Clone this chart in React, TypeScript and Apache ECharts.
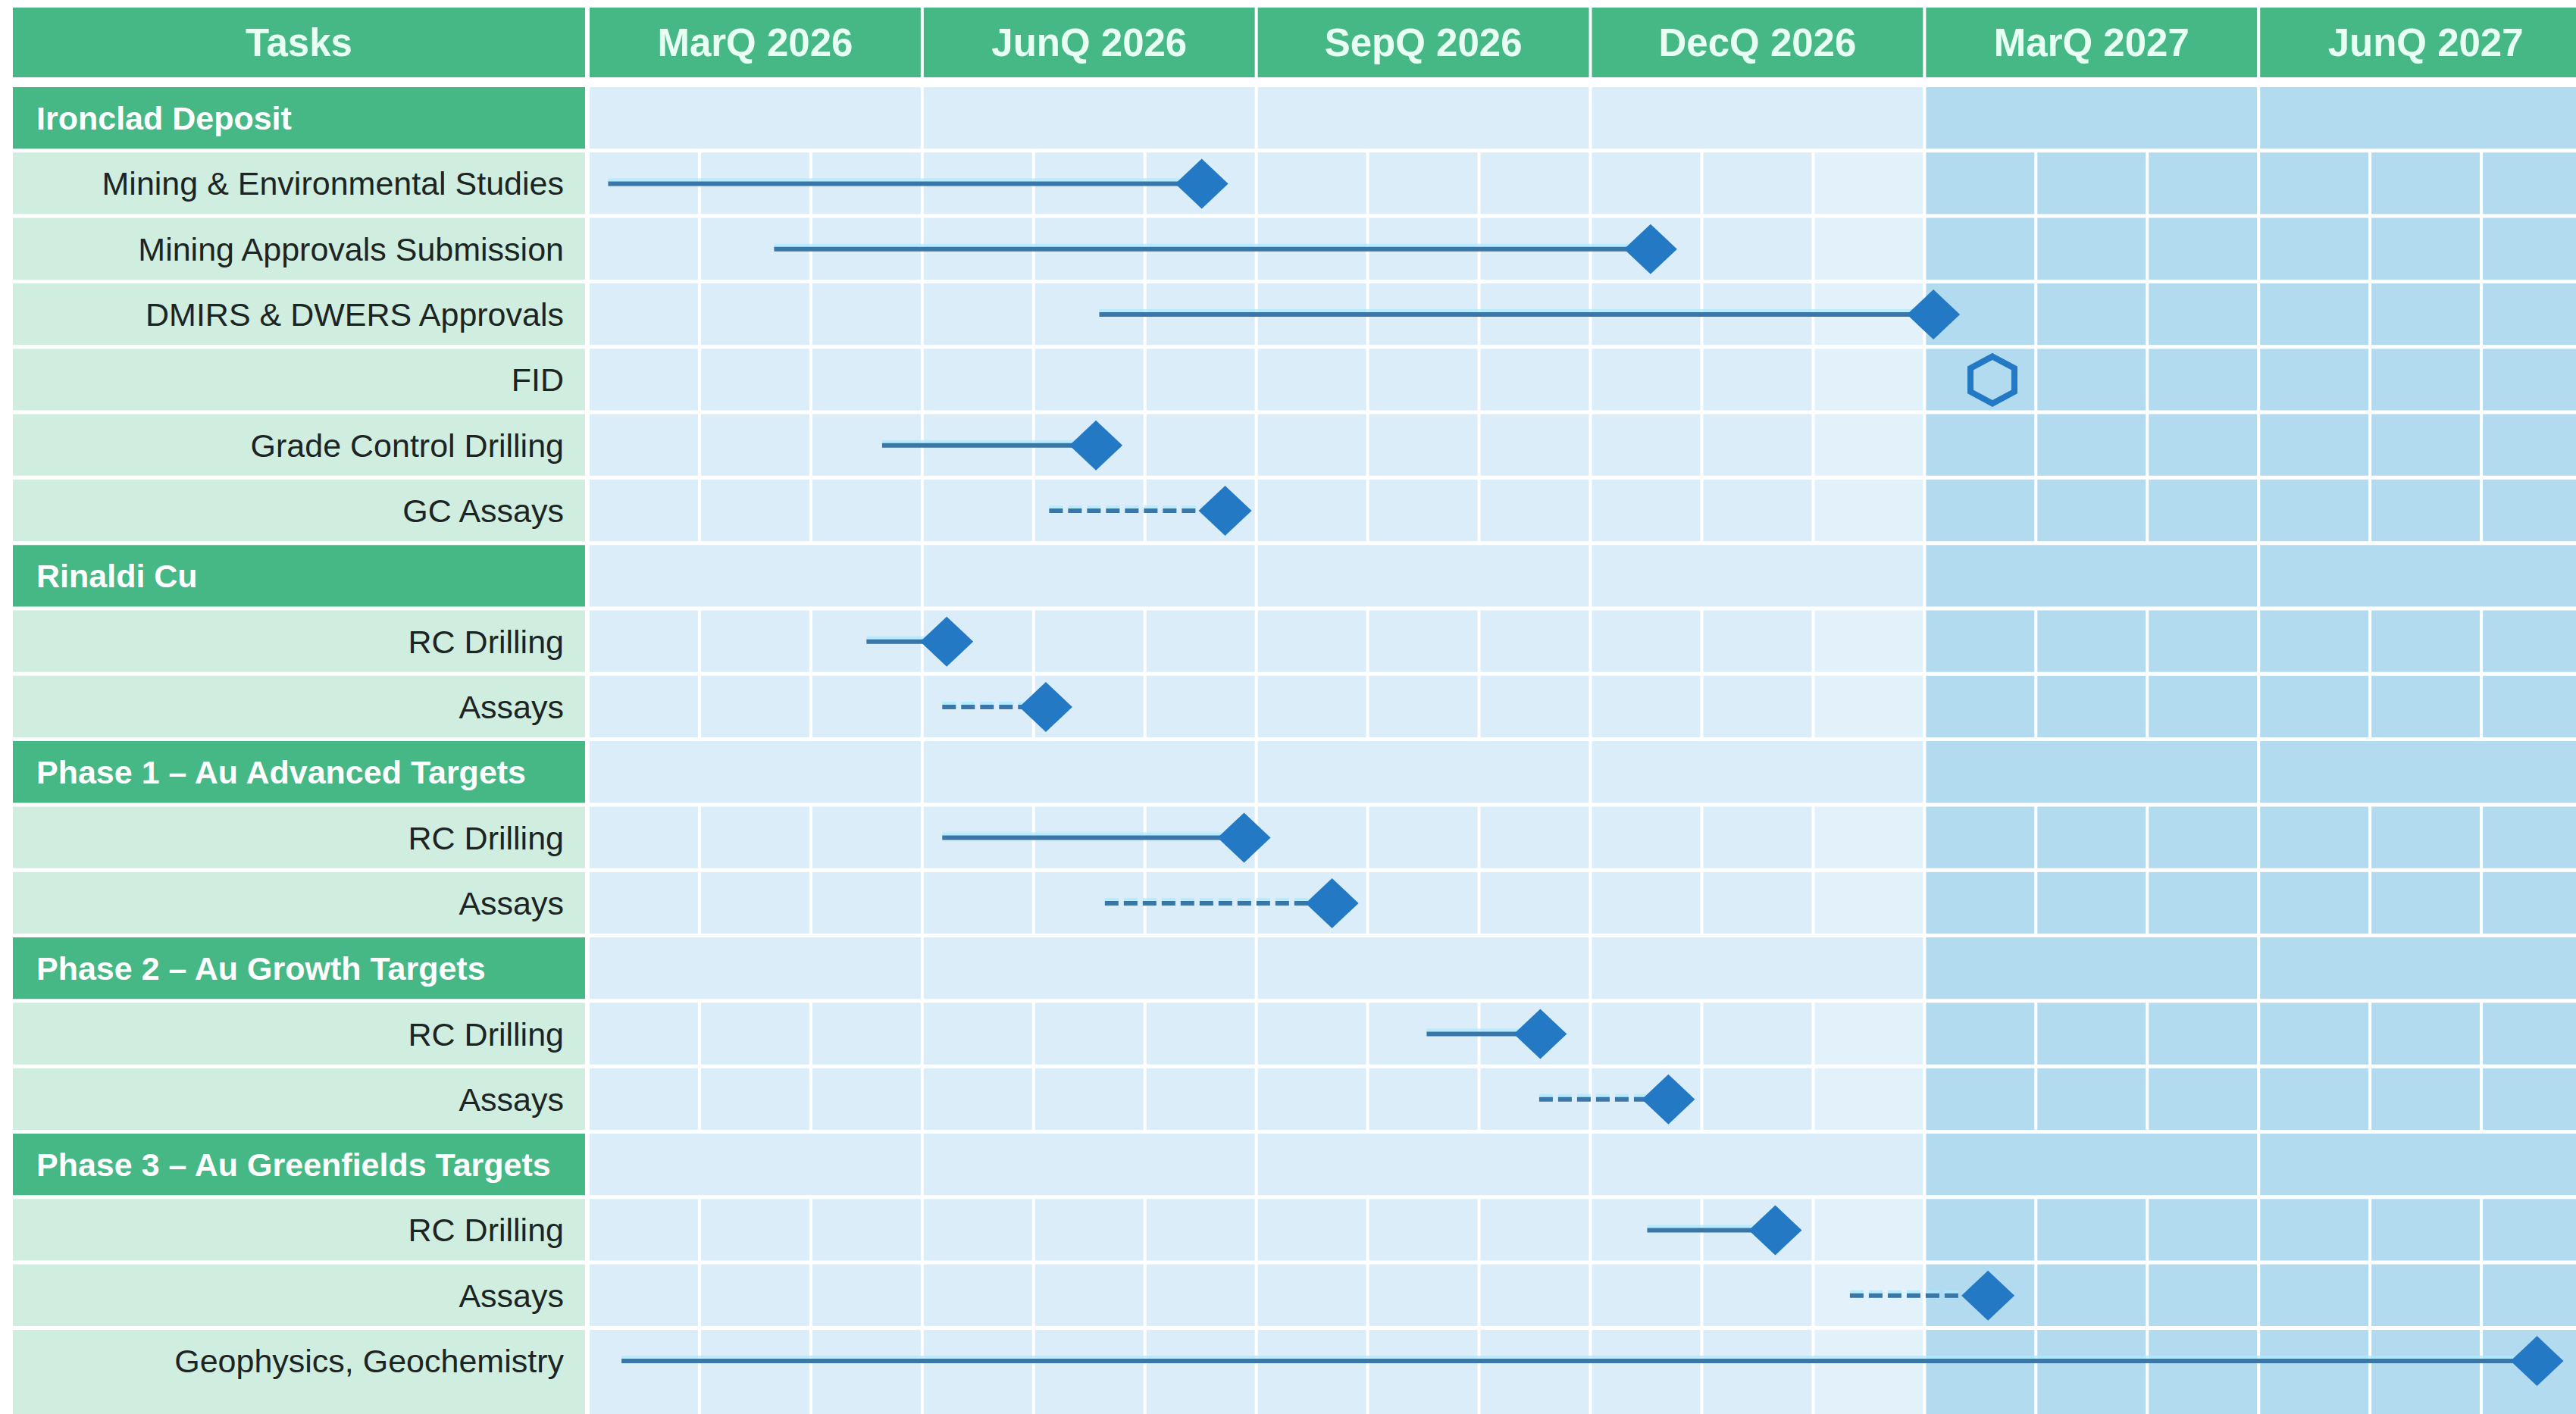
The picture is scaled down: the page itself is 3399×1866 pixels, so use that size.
import React, { useEffect, useRef } from "react";
import * as echarts from "echarts";

// ---------- data ----------
const quarters = ["MarQ 2026", "JunQ 2026", "SepQ 2026", "DecQ 2026", "MarQ 2027", "JunQ 2027"];
const taskHeader = "Tasks";
const rowLabels = [
  "Ironclad Deposit",
  "Mining & Environmental Studies",
  "Mining Approvals Submission",
  "DMIRS & DWERS Approvals",
  "FID",
  "Grade Control Drilling",
  "GC Assays",
  "Rinaldi Cu",
  "RC Drilling",
  "Assays",
  "Phase 1 – Au Advanced Targets",
  "RC Drilling",
  "Assays",
  "Phase 2 – Au Growth Targets",
  "RC Drilling",
  "Assays",
  "Phase 3 – Au Greenfields Targets",
  "RC Drilling",
  "Assays",
  "Geophysics, Geochemistry",
];
const groupRows = [0, 7, 10, 13, 16];
// activities: months counted from 1 Jan 2026
const activityRows = [1, 2, 3, 5, 6, 8, 9, 11, 12, 14, 15, 17, 18, 19];
const activityStart = [0.18, 1.67, 4.59, 2.64, 4.14, 2.5, 3.18, 3.18, 4.64, 7.53, 8.54, 9.51, 11.33, 0.3];
const activityEnd = [5.51, 9.54, 12.08, 4.56, 5.72, 3.22, 4.11, 5.89, 6.68, 8.55, 9.7, 10.66, 12.57, 17.5];
const activityDashed = [false, false, false, false, true, false, true, false, true, false, true, false, true, false];
const milestoneRows = [4];
const milestoneMonth = [12.61];

// ---------- layout / style ----------
const W = 3399;
const H = 1866;
const LEFT = 17;
const LABEL_RIGHT = 772;
const GRID_LEFT = 776;
const GRID_TOP = 113;
const HEADER_TOP = 10;
const HEADER_BOTTOM = 102;
const X_MAX = 17.85;
const Y_MAX = 20.31;
const MONTHS = quarters.length * 3;

const GREEN = "#45b886";
const HEADER_TEXT = "#e8fff4";
const MINT = "#cfeedf";
const BLUE = "#daedf8";
const BLUE_LIGHT = "#e2f1fa";
const BLUE_DARK = "#b3dbef";
const MARK = "#2479c4";
const LINE = "#3a76a7";
const FONT = "'Liberation Sans', Arial, sans-serif";

function monthColor(m: number) {
  if (m >= 12) return BLUE_DARK;
  if (m === 11) return BLUE_LIGHT;
  return BLUE;
}

function textEl(x: number, y: number, text: string, font: string, fill: string, align: string) {
  return {
    type: "text",
    style: {
      x,
      y,
      text,
      font,
      fill,
      align,
      verticalAlign: "middle",
      textAlign: align,
      textVerticalAlign: "middle",
    },
  };
}

export default function App() {
  const ref = useRef<HTMLDivElement>(null);

  useEffect(() => {
    const chart = echarts.init(ref.current!, null, { renderer: "svg" });

    const cellData = rowLabels.map((_, i) => [0, i]);
    const headerData = quarters.map((_, q) => [q * 3, q]);
    const lineData = activityRows.map((r, i) => [activityStart[i], r + 0.5, activityEnd[i], activityDashed[i] ? 1 : 0]);
    const diamondData = activityRows.map((r, i) => [activityEnd[i], r + 0.5]);
    const hexData = milestoneRows.map((r, i) => [milestoneMonth[i], r + 0.5]);

    const option: any = {
      animation: false,
      backgroundColor: "#ffffff",
      grid: { left: GRID_LEFT, top: GRID_TOP, width: W - GRID_LEFT, height: H - GRID_TOP, show: false },
      xAxis: { type: "value", min: 0, max: X_MAX, show: false },
      yAxis: { type: "value", min: 0, max: Y_MAX, inverse: true, show: false },
      series: [
        {
          type: "custom",
          name: "cells",
          clip: false,
          z: 1,
          data: cellData,
          renderItem: (params: any, api: any) => {
            const r = api.value(1);
            const cs = params.coordSys;
            const yTop = api.coord([0, r])[1];
            const isLast = r === rowLabels.length - 1;
            const yBot = isLast ? cs.y + cs.height + 10 : api.coord([0, r + 1])[1];
            const y = yTop + 2;
            const h = yBot - yTop - 5;
            const isGroup = groupRows.indexOf(r) >= 0;
            const yc = api.coord([0, r + 0.5])[1];
            const children: any[] = [];
            children.push({
              type: "rect",
              shape: { x: LEFT, y, width: LABEL_RIGHT - LEFT, height: h },
              style: { fill: isGroup ? GREEN : MINT },
            });
            if (isGroup) {
              children.push(textEl(48, yc, rowLabels[r], `bold 43px ${FONT}`, "#ffffff", "left"));
              for (let q = 0; q < quarters.length; q++) {
                const x0 = api.coord([q * 3, r])[0];
                const x1 = api.coord([q * 3 + 3, r])[0];
                children.push({
                  type: "rect",
                  shape: { x: x0 + 2, y, width: x1 - x0 - 4, height: h },
                  style: { fill: q >= 4 ? BLUE_DARK : BLUE },
                });
              }
            } else {
              children.push(textEl(744, yc, rowLabels[r], `43px ${FONT}`, "#1c2424", "right"));
              for (let m = 0; m < MONTHS; m++) {
                const x0 = api.coord([m, r])[0];
                const x1 = api.coord([m + 1, r])[0];
                children.push({
                  type: "rect",
                  shape: { x: x0 + 2, y, width: x1 - x0 - 4, height: h },
                  style: { fill: monthColor(m) },
                });
              }
            }
            return { type: "group", children };
          },
        },
        {
          type: "custom",
          name: "header",
          clip: false,
          z: 1,
          data: headerData,
          renderItem: (params: any, api: any) => {
            const q = api.value(1);
            const x0 = api.coord([q * 3, 0])[0];
            const x1 = api.coord([q * 3 + 3, 0])[0];
            const yc = (HEADER_TOP + HEADER_BOTTOM) / 2;
            const children: any[] = [
              {
                type: "rect",
                shape: { x: x0 + 2, y: HEADER_TOP, width: x1 - x0 - 4, height: HEADER_BOTTOM - HEADER_TOP },
                style: { fill: GREEN },
              },
              textEl((x0 + x1) / 2, yc, quarters[q], `bold 51px ${FONT}`, HEADER_TEXT, "center"),
            ];
            if (q === 0) {
              children.push({
                type: "rect",
                shape: { x: LEFT, y: HEADER_TOP, width: LABEL_RIGHT - LEFT, height: HEADER_BOTTOM - HEADER_TOP },
                style: { fill: GREEN },
              });
              children.push(textEl((LEFT + LABEL_RIGHT) / 2, yc, taskHeader, `bold 51px ${FONT}`, HEADER_TEXT, "center"));
            }
            return { type: "group", children };
          },
        },
        {
          type: "custom",
          name: "activities",
          clip: false,
          z: 2,
          data: lineData,
          renderItem: (params: any, api: any) => {
            const p0 = api.coord([api.value(0), api.value(1)]);
            const p1 = api.coord([api.value(2), api.value(1)]);
            const dashed = api.value(3) === 1;
            return {
              type: "group",
              children: [
                {
                  type: "line",
                  shape: { x1: p0[0], y1: p0[1] - 3, x2: p1[0], y2: p1[1] - 3 },
                  style: { stroke: "rgba(170,235,255,0.75)", lineWidth: 8, lineDash: dashed ? [18, 7] : null },
                },
                {
                  type: "line",
                  shape: { x1: p0[0], y1: p0[1], x2: p1[0], y2: p1[1] },
                  style: { stroke: LINE, lineWidth: 6, lineDash: dashed ? [18, 7] : null },
                },
              ],
            };
          },
        },
        {
          type: "scatter",
          name: "finish",
          z: 3,
          symbol: "diamond",
          symbolSize: [70, 66],
          itemStyle: { color: MARK, opacity: 1 },
          data: diamondData,
        },
        {
          type: "custom",
          name: "milestone",
          clip: false,
          z: 3,
          data: hexData,
          renderItem: (params: any, api: any) => {
            const c = api.coord([api.value(0), api.value(1)]);
            const w = 29;
            const h = 31;
            return {
              type: "polygon",
              shape: {
                points: [
                  [c[0], c[1] - h],
                  [c[0] + w, c[1] - h / 2],
                  [c[0] + w, c[1] + h / 2],
                  [c[0], c[1] + h],
                  [c[0] - w, c[1] + h / 2],
                  [c[0] - w, c[1] - h / 2],
                ],
              },
              style: { fill: "none", stroke: MARK, lineWidth: 8 },
            };
          },
        },
      ],
    };

    chart.setOption(option);
    return () => chart.dispose();
  }, []);

  return (
    <div
      ref={ref}
      style={{ position: "fixed", left: 0, top: 0, width: W, height: H, background: "#ffffff" }}
    />
  );
}
